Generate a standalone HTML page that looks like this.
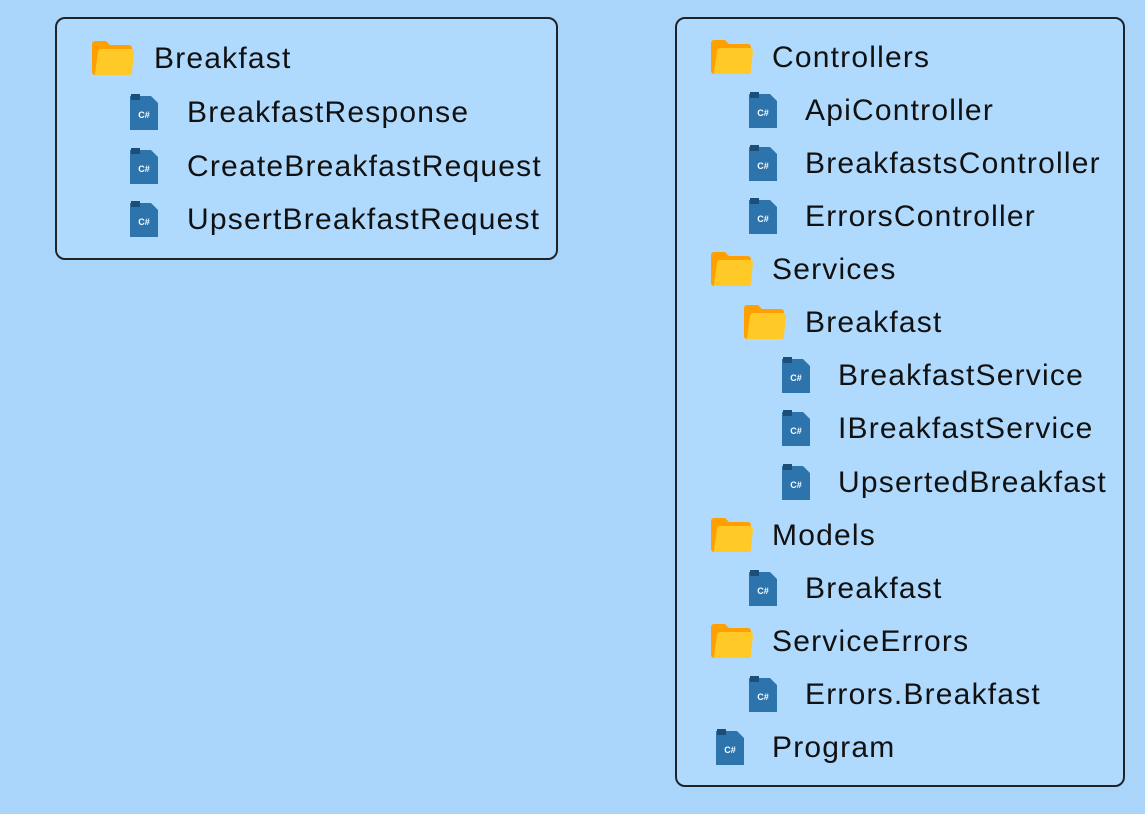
<!DOCTYPE html>
<html><head><meta charset="utf-8"><style>
html,body{margin:0;padding:0}
body{width:1145px;height:814px;background:#a9d5fb;position:relative;overflow:hidden;font-family:"Liberation Sans",Arial,sans-serif}
.box{position:absolute;border:2px solid #1f2328;border-radius:10px;background:#b0dafd;box-sizing:border-box}
.t{position:absolute;font-size:30px;letter-spacing:1.2px;color:#111;line-height:34px;white-space:nowrap}
.f,.c{position:absolute}
</style></head><body>
<div class="box" style="left:55px;top:17px;width:503px;height:243px"></div>
<div class="box" style="left:675px;top:17px;width:450px;height:770px"></div>
<svg width="0" height="0" style="position:absolute">
<defs>
<symbol id="fold" viewBox="0 0 42 34"><path d="M0 3a3 3 0 0 1 3-3h11l4 4h19a3 3 0 0 1 3 3v24a3 3 0 0 1-3 3H3a3 3 0 0 1-3-3z" fill="#ffa000"/><path d="M6 11a3 3 0 0 1 3-3h30a3 3 0 0 1 3 3l-2 20a3 3 0 0 1-3 3H3a3 3 0 0 1 0-1z" fill="#ffca28"/></symbol>
<symbol id="cs" viewBox="0 0 28 36"><path d="M0 2h21l7 7v27H0z" fill="#2c74ab"/><rect x="1" y="0" width="9" height="6" fill="#1b4f7a"/><text x="14" y="24" font-family="Liberation Sans,Arial" font-size="9" font-weight="bold" fill="#fff" text-anchor="middle">C#</text></symbol>
</defs></svg>
<div id="c"></div>
<script>
const items=[
['f',92,58,'Breakfast',154],
['c',130,112,'BreakfastResponse',187],
['c',130,166,'CreateBreakfastRequest',187],
['c',130,219,'UpsertBreakfastRequest',187],
['f',711,57,'Controllers',772],
['c',749,110,'ApiController',805],
['c',749,163,'BreakfastsController',805],
['c',749,216,'ErrorsController',805],
['f',711,269,'Services',772],
['f',744,322,'Breakfast',805],
['c',782,375,'BreakfastService',838],
['c',782,428,'IBreakfastService',838],
['c',782,482,'UpsertedBreakfast',838],
['f',711,535,'Models',772],
['c',749,588,'Breakfast',805],
['f',711,641,'ServiceErrors',772],
['c',749,694,'Errors.Breakfast',805],
['c',716,747,'Program',772]];
let h='';
for(const [k,x,y,t,tx] of items){
 if(k=='f')h+=`<svg class="f" style="left:${x}px;top:${y-17}px" width="42" height="34"><use href="#fold"/></svg>`;
 else h+=`<svg class="c" style="left:${x}px;top:${y-18}px" width="28" height="36"><use href="#cs"/></svg>`;
 h+=`<div class="t" style="left:${tx}px;top:${y-16}px">${t}</div>`;
}
document.getElementById('c').innerHTML=h;
</script>
</body></html>
